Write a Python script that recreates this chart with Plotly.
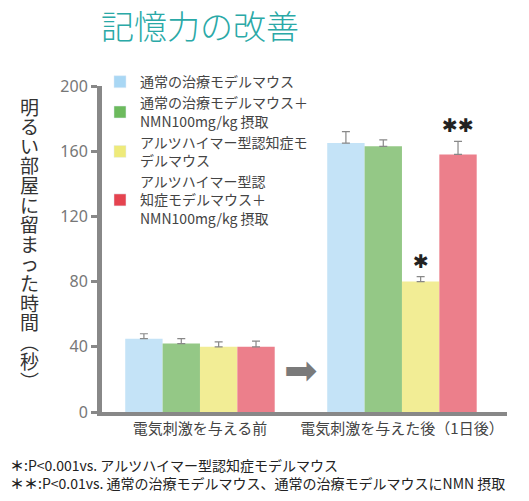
import plotly.graph_objects as go

categories = ["電気刺激を与える前", "電気刺激を与えた後（1日後）"]
series_names = [
    "通常の治療モデルマウス",
    "通常の治療モデルマウス＋<br>NMN100mg/kg 摂取",
    "アルツハイマー型認知症モ<br>デルマウス",
    "アルツハイマー型認<br>知症モデルマウス＋<br>NMN100mg/kg 摂取",
]
values_blue = [45, 165]
values_green = [42, 163]
values_yellow = [40, 80]
values_red = [40, 158]
err_blue = [3, 7]
err_green = [3, 4]
err_yellow = [3, 3]
err_red = [3.5, 8]
series_values = [values_blue, values_green, values_yellow, values_red]
series_errors = [err_blue, err_green, err_yellow, err_red]
colors = ["#c4e3f7", "#94c886", "#f2ed95", "#ec7f8b"]
legend_colors = ["#a9d7f4", "#6cba5d", "#eeea7a", "#e5434f"]
sig_labels = ["", "", "✱", "✱✱"]
y_ticks = [0, 40, 80, 120, 160, 200]

BARGAP = 0.26
n = len(series_values)
x_pos = list(range(len(categories)))

# page body has an 8px margin: figure is sized to fit the 529x501 window
W, H = 521, 493
ML, MR, MT, MB = 94, 22, 78, 89

fig = go.Figure()
for i, (name, vals, errs) in enumerate(zip(series_names, series_values, series_errors)):
    fig.add_trace(go.Bar(
        x=x_pos, y=vals, name=name,
        marker=dict(color=colors[i], line=dict(width=0)),
        error_y=dict(type="data", symmetric=False, array=errs,
                     arrayminus=[0] * len(errs), color="#888888",
                     thickness=1.2, width=4),
        showlegend=False,
    ))
for i, name in enumerate(series_names):
    # legend proxy on hidden axes so it does not take a bar slot
    fig.add_trace(go.Bar(x=[None], y=[None], name=name, xaxis="x2", yaxis="y2",
                         marker=dict(color=legend_colors[i]), showlegend=True))

bw = (1 - BARGAP) / n
annotations = []
for i, lab in enumerate(sig_labels):
    if not lab:
        continue
    xc = x_pos[1] - (1 - BARGAP) / 2 + bw * (i + 0.5)
    ytop = series_values[i][1] + series_errors[i][1]
    annotations.append(dict(x=xc, y=ytop, xref="x", yref="y", text=lab,
                            showarrow=False, yanchor="bottom", yshift=3,
                            font=dict(size=19, color="#222222", family="DejaVu Sans")))

# arrow between groups
annotations.append(dict(x=(x_pos[0] + x_pos[1]) / 2, y=26, xref="x", yref="y",
                        text="➡", showarrow=False,
                        font=dict(size=40, color="#7a7a7a", family="DejaVu Sans")))

# vertical (upright) y-axis title, one character per line
ytitle = "明るい部屋に留まった時間︵秒︶"
chars = list(ytitle)
offset = 106 - 86   # first char centre below plot top (px)
for k, ch in enumerate(chars):
    annotations.append(dict(x=-0.208, y=1, xref="paper", yref="paper",
                            yanchor="middle", yshift=-offset,
                            text=ch, showarrow=False,
                            font=dict(size=19, color="#333333", family="Noto Sans CJK JP")))
    offset += 19.6

# footnotes
annotations.append(dict(x=-0.232, y=-0.125, xref="paper", yref="paper",
                        xanchor="left", yanchor="top", align="left",
                        text="<b>＊</b>:P<0.001vs. アルツハイマー型認知症モデルマウス<br>"
                             "<b>＊＊</b>:P<0.01vs. 通常の治療モデルマウス、通常の治療モデルマウスにNMN 摂取",
                        showarrow=False,
                        font=dict(size=14, color="#222222", family="Noto Sans CJK JP")))

fig.update_layout(
    width=W, height=H,
    margin=dict(l=ML, r=MR, t=MT, b=MB, autoexpand=False),
    paper_bgcolor="white", plot_bgcolor="white",
    barmode="group", bargap=BARGAP, bargroupgap=0,
    title=dict(text="記憶力の改善", x=(200 - 8) / W, xanchor="center",
               y=1 - (27 - 8) / H, yref="container", yanchor="middle",
               font=dict(size=33, color="#2aa9a7", family="Noto Sans CJK JP", weight=300)),
    font=dict(family="Noto Sans CJK JP", color="#444444"),
    legend=dict(x=-0.005, y=1.061, xanchor="left", yanchor="top",
                bgcolor="rgba(255,255,255,0)", font=dict(size=14, color="#444444"),
                tracegroupgap=0, itemwidth=30),
    annotations=annotations,
    xaxis=dict(range=[-0.485, 1.52], tickvals=x_pos, ticktext=categories,
               showline=True, linewidth=4, linecolor="#888888", ticks="",
               showgrid=False, zeroline=False, tickfont=dict(size=15, color="#444444")),
    yaxis=dict(range=[0, 200], tickvals=y_ticks, showline=True, linewidth=5,
               linecolor="#888888", ticks="outside", ticklen=6, tickwidth=3,
               tickcolor="#888888", showgrid=False, zeroline=False,
               tickfont=dict(size=16, color="#777777", family="Noto Sans")),
    xaxis2=dict(visible=False, overlaying="x", range=[0, 1]),
    yaxis2=dict(visible=False, overlaying="y", range=[0, 1]),
)

fig.write_html("out.html")
